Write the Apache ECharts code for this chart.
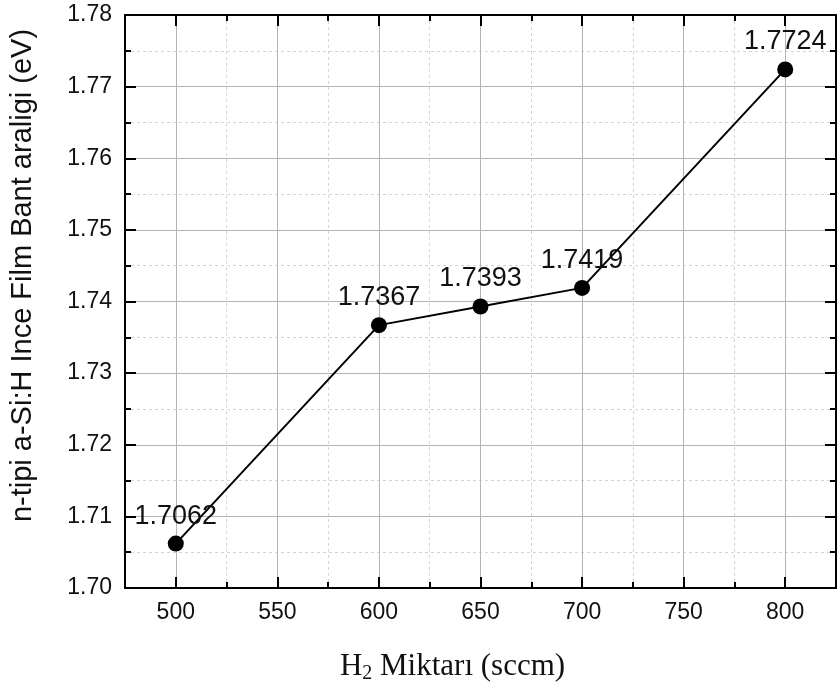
<!DOCTYPE html>
<html>
<head>
<meta charset="utf-8">
<script src="https://cdn.jsdelivr.net/npm/echarts@6/dist/echarts.min.js"></script>
<style>
  html, body { margin: 0; padding: 0; background: #fff; }
  #chart { width: 838px; height: 689px; }
</style>
</head>
<body>
<div id="chart"></div>
<script>
// H2 flow (sccm) vs. band gap of n-type a-Si:H thin film (eV)
const h2Flow = [500, 600, 650, 700, 800];
const bandGap = [1.7062, 1.7367, 1.7393, 1.7419, 1.7724];
const xMajorTicks = [500, 550, 600, 650, 700, 750, 800];
const xMinorTicks = [525, 575, 625, 675, 725, 775];

const FONT = "'Liberation Sans', Arial, sans-serif";
const SERIF = "'Liberation Serif', 'Times New Roman', serif";
const majorGrid = { show: true, lineStyle: { color: '#b4b4b4', width: 1, type: 'solid' } };
const minorGrid = { show: true, lineStyle: { color: '#d4d4d4', width: 1, type: [3, 3] } };

function xAxisDef(position, ticks, isMajor, showLabels) {
  return {
    type: 'value',
    position: position,
    min: 475, max: 825, interval: 25,
    axisLine: { show: isMajor, onZero: false, lineStyle: { color: '#000', width: 2 } },
    axisTick: { show: true, inside: true, length: isMajor ? 11 : 6, customValues: ticks,
                lineStyle: { color: '#000', width: 2 } },
    axisLabel: showLabels
      ? { show: true, customValues: ticks, margin: 13, color: '#111', fontSize: 23, fontFamily: FONT }
      : { show: false },
    splitLine: position === 'bottom' ? (isMajor ? majorGrid : minorGrid) : { show: false },
    gridIndex: 0
  };
}

const chart = echarts.init(document.getElementById('chart'), null, { renderer: 'canvas' });
chart.setOption({
  backgroundColor: '#fff',
  animation: false,
  grid: { left: 125, right: 2, top: 15, bottom: 99, containLabel: false },
  xAxis: [
    Object.assign(xAxisDef('bottom', xMajorTicks, true, true), {
      name: '{h|H}{s|2}{h| Miktarı (sccm)}',
      nameLocation: 'middle',
      nameGap: 62,
      nameTextStyle: {
        padding: [0, 56, 0, 0],
        rich: {
          h: { fontFamily: SERIF, fontSize: 31, color: '#111' },
          s: { fontFamily: SERIF, fontSize: 20, color: '#111',
               verticalAlign: 'bottom', padding: [14, 0, 0, 0] }
        }
      }
    }),
    xAxisDef('bottom', xMinorTicks, false, false),
    xAxisDef('top', xMajorTicks, true, false),
    xAxisDef('top', xMinorTicks, false, false)
  ],
  yAxis: [
    {
      type: 'value',
      min: 1.70, max: 1.78, interval: 0.01,
      name: 'n-tipi a-Si:H Ince Film Bant araligi (eV)',
      nameLocation: 'middle',
      nameGap: 88,
      nameTextStyle: { fontFamily: FONT, fontSize: 29, color: '#111', padding: [0, 0, 0, 52] },
      axisLine: { show: true, onZero: false, lineStyle: { color: '#000', width: 2 } },
      axisTick: { show: true, inside: true, length: 11, lineStyle: { color: '#000', width: 2 } },
      minorTick: { show: true, splitNumber: 2, length: 6, lineStyle: { color: '#000', width: 2 } },
      axisLabel: { margin: 13, color: '#111', fontSize: 23, fontFamily: FONT,
                   formatter: v => v.toFixed(2) },
      splitLine: majorGrid,
      minorSplitLine: minorGrid
    },
    {
      type: 'value',
      position: 'right',
      min: 1.70, max: 1.78, interval: 0.01,
      axisLine: { show: true, onZero: false, lineStyle: { color: '#000', width: 2 } },
      axisTick: { show: true, inside: true, length: 11, lineStyle: { color: '#000', width: 2 } },
      minorTick: { show: true, splitNumber: 2, length: 6, lineStyle: { color: '#000', width: 2 } },
      axisLabel: { show: false },
      splitLine: { show: false }
    }
  ],
  series: [{
    type: 'line',
    xAxisIndex: 0,
    yAxisIndex: 0,
    data: h2Flow.map((x, i) => [x, bandGap[i]]),
    symbol: 'circle',
    symbolSize: 16,
    itemStyle: { color: '#000' },
    lineStyle: { color: '#000', width: 2 },
    label: {
      show: true,
      position: 'top',
      distance: 6,
      color: '#111',
      fontSize: 27,
      fontFamily: FONT,
      formatter: p => bandGap[p.dataIndex].toFixed(4)
    },
    z: 10
  }]
});
</script>
</body>
</html>
